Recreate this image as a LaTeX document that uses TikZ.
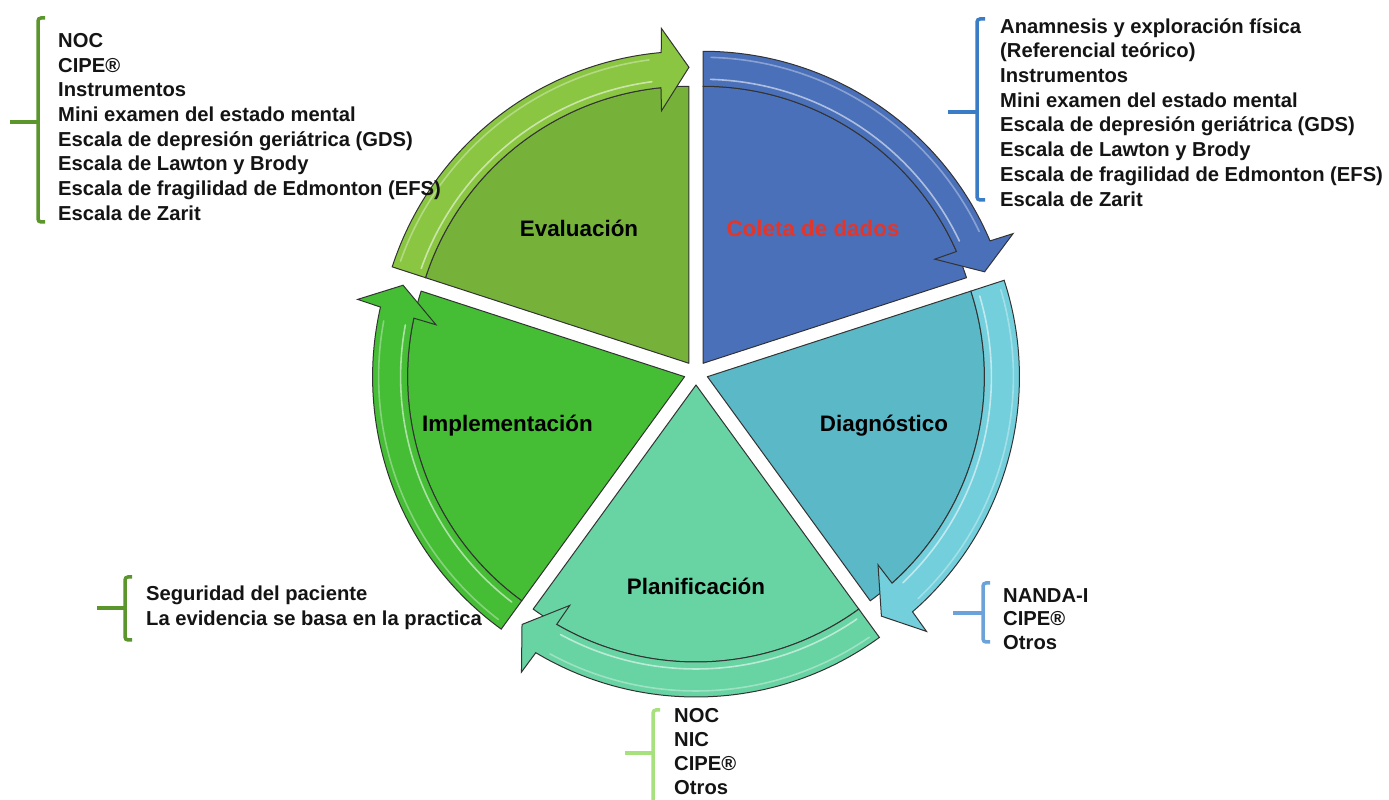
\documentclass[tikz,border=0pt]{standalone}
\usepackage{fontspec}
\setmainfont{Liberation Sans}
\usetikzlibrary{calc}

\definecolor{evalfill}{HTML}{76B23A}
\definecolor{evalband}{HTML}{8AC641}
\definecolor{colfill}{HTML}{4A70BA}
\definecolor{diagfill}{HTML}{5AB8C7}
\definecolor{diagband}{HTML}{72CFDB}
\definecolor{planfill}{HTML}{68D3A3}
\definecolor{implfill}{HTML}{45BD35}
\definecolor{coletared}{HTML}{E3362B}
\definecolor{brkdark}{HTML}{5A962C}
\definecolor{brkblue}{HTML}{3B7CC6}
\definecolor{brklight}{HTML}{A7E17E}
\definecolor{brksky}{HTML}{6CA2DA}

\tikzset{
  wedge/.style={draw=black!80, line width=1pt, line join=round},
  band/.style={draw=black!80, line width=1pt, line join=miter},
  gloss/.style={white, line width=1.6pt, opacity=0.55, line cap=round},
  stage/.style={font=\fontsize{22.4}{24}\selectfont\bfseries, inner sep=0pt, anchor=base},
  itemlist/.style={font=\fontsize{20.2}{24.7}\selectfont\bfseries, align=left,
                   anchor=north west, inner sep=0pt, text=black!92},
  bracketline/.style={line width=3.5pt, rounded corners=3pt},
}

% one exploded pie slice with its curved arrow running clockwise along the rim
% #1 apex name, #2 bisector angle, #3 slice colour, #4 arrow colour
\newcommand{\cyclewedge}[4]{%
  \pgfmathsetmacro{\wgS}{#2+36}%
  \pgfmathsetmacro{\wgE}{#2-36}%
  \pgfmathsetmacro{\wgO}{#2-36+5.1}%
  \pgfmathsetmacro{\wgI}{#2-36+5.8}%
  \pgfmathsetmacro{\wgWO}{#2-36+4.7}%
  \pgfmathsetmacro{\wgWI}{#2-36+6.2}%
  \pgfmathsetmacro{\wgGa}{#2+36-1.5}%
  \pgfmathsetmacro{\wgGb}{#2-36+7.5}%
  \coordinate (#1) at ($(C)+(#2:12pt)$);
  \filldraw[wedge, fill=#3] (#1) -- ($(#1)+(\wgS:277pt)$)
      arc[start angle=\wgS, end angle=\wgE, radius=277pt] -- cycle;
  \filldraw[band, fill=#4] ($(#1)+(\wgS:312pt)$)
      arc[start angle=\wgS, end angle=\wgO, radius=312pt]
      -- ($(#1)+(\wgWO:336pt)$) -- ($(#1)+(\wgE:296pt)$) -- ($(#1)+(\wgWI:254pt)$)
      -- ($(#1)+(\wgI:277pt)$)
      arc[start angle=\wgI, end angle=\wgS, radius=277pt] -- cycle;
  \draw[gloss] ($(#1)+(\wgGa:284pt)$) arc[start angle=\wgGa, end angle=\wgGb, radius=284pt];
  \draw[gloss, opacity=0.35] ($(#1)+(\wgGa:306pt)$) arc[start angle=\wgGa, end angle=\wgGb, radius=306pt];
}

\begin{document}
\begin{tikzpicture}[x=1pt, y=1pt]
  \fill[white] (0,0) rectangle (1389,800);
  \useasboundingbox (0,0) rectangle (1389,800);

  \coordinate (C) at (696,427);

  % the five stages
  \cyclewedge{evalapex}{126}{evalfill}{evalband}
  \cyclewedge{colapex}{54}{colfill}{colfill}
  \cyclewedge{diagapex}{-18}{diagfill}{diagband}
  \cyclewedge{planapex}{-90}{planfill}{planfill}
  \cyclewedge{implapex}{198}{implfill}{implfill}

  \node[stage] (evaluacion) at (579,563) {Evaluación};
  \node[stage, text=coletared] (coleta) at (813,563.3) {Coleta de dados};
  \node[stage] (diagnostico) at (884,368.3) {Diagnóstico};
  \node[stage] (planificacion) at (696,205.7) {Planificación};
  \node[stage] (implementacion) at (507.5,368.3) {Implementación};

  % tools of the evaluation stage
  \draw[bracketline, brkdark] (45,782) -- (38,782) -- (38,578) -- (45,578);
  \draw[bracketline, brkdark] (10,678) -- (38,678);
  \node[itemlist] (evallist) at (58,770) {\strut NOC\\CIPE®\\Instrumentos\\Mini examen del estado mental\\
    Escala de depresión geriátrica (GDS)\\Escala de Lawton y Brody\\
    Escala de fragilidad de Edmonton (EFS)\\Escala de Zarit};

  % tools of the data collection stage
  \draw[bracketline, brkblue] (985,781) -- (977,781) -- (977,600) -- (985,600);
  \draw[bracketline, brkblue] (948,688) -- (977,688);
  \node[itemlist] (colelist) at (1000,784.3) {\strut Anamnesis y exploración física\\(Referencial teórico)\\
    Instrumentos\\Mini examen del estado mental\\Escala de depresión geriátrica (GDS)\\
    Escala de Lawton y Brody\\Escala de fragilidad de Edmonton (EFS)\\Escala de Zarit};

  % implementation
  \draw[bracketline, brkdark] (132,223) -- (125,223) -- (125,160) -- (132,160);
  \draw[bracketline, brkdark] (97,192) -- (125,192);
  \node[itemlist] (impllist) at (146,216.6) {\strut Seguridad del paciente\\La evidencia se basa en la practica};

  % planning
  \draw[bracketline, brklight] (660,90) -- (653,90) -- (653,-10);
  \draw[bracketline, brklight] (625,47) -- (653,47);
  \node[itemlist, font=\fontsize{20.2}{24.2}\selectfont\bfseries] (planlist) at (674,95) {\strut NOC\\NIC\\CIPE®\\Otros};

  % diagnosis
  \draw[bracketline, brksky] (990,217) -- (983,217) -- (983,158) -- (990,158);
  \draw[bracketline, brksky] (953,187) -- (983,187);
  \node[itemlist, font=\fontsize{20.2}{23.5}\selectfont\bfseries] (diaglist) at (1003,214.3) {\strut NANDA-I\\CIPE®\\Otros};
\end{tikzpicture}
\end{document}
